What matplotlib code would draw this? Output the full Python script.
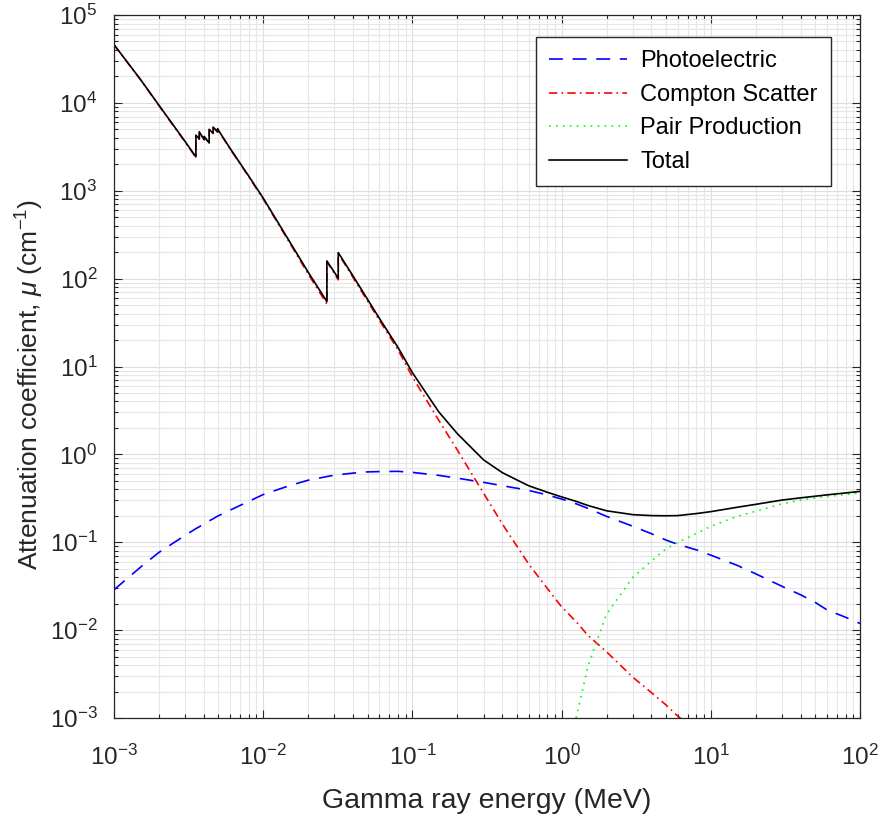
import matplotlib
matplotlib.use('Agg')
import matplotlib.pyplot as plt
from matplotlib.ticker import LogLocator, NullFormatter
import numpy as np

plt.rcParams['font.family'] = ['Liberation Sans', 'DejaVu Sans']
plt.rcParams['mathtext.fontset'] = 'custom'
plt.rcParams['mathtext.rm'] = 'Liberation Sans'
plt.rcParams['mathtext.it'] = 'Liberation Sans:italic'
plt.rcParams['lines.scale_dashes'] = False

# photon energy grid (MeV), absorption edges listed twice
energy = [0.001, 0.0015, 0.002, 0.003,
          0.003538, 0.003538, 0.003727, 0.003727, 0.004018, 0.004018,
          0.004341, 0.004341, 0.004612, 0.004612, 0.004939, 0.004939,
          0.005, 0.006, 0.008, 0.01, 0.015, 0.02, 0.02671, 0.02671,
          0.03, 0.03181, 0.03181, 0.04, 0.05, 0.06, 0.08, 0.1,
          0.15, 0.2, 0.3, 0.4, 0.5, 0.6, 0.8,
          1.0, 1.25, 1.5, 2, 3, 4, 5, 6, 8, 10,
          15, 20, 30, 40, 50, 60, 80, 100]

# blue dashed curve
photoelectric = [0.0288, 0.0518, 0.0767, 0.120,
                 0.143, 0.143, 0.150, 0.150, 0.163, 0.163,
                 0.175, 0.175, 0.185, 0.185, 0.198, 0.198,
                 0.200, 0.232, 0.292, 0.349, 0.441, 0.508, 0.559, 0.559,
                 0.581, 0.587, 0.587, 0.612, 0.632, 0.637, 0.641, 0.624,
                 0.577, 0.536, 0.480, 0.440, 0.412, 0.389, 0.346,
                 0.310, 0.274, 0.243, 0.197, 0.152, 0.125, 0.106, 0.0946, 0.0819, 0.0713,
                 0.0546, 0.0437, 0.0315, 0.0252, 0.0207, 0.0170, 0.0140, 0.0119]

# red dash-dot curve
compton = [45700, 18450, 9300, 3570,
           2390, 4260, 3860, 4660, 3760, 4110,
           3465, 4950, 4455, 5250, 4650, 5050,
           4850, 2990, 1440, 805, 257, 113, 51.5, 155,
           114, 97, 193, 103, 55.5, 33.6, 15.5, 7.6,
           2.45, 1.12, 0.36, 0.162, 0.091, 0.0568, 0.0299,
           0.0184, 0.0125, 0.0087, 0.00566, 0.00291, 0.00194, 0.00141, 0.00105, 0.00072, 0.00055,
           0.00035, 0.00026, 0.00017, 0.00013, 0.0001, 0.00009, 0.00007, 0.00005]

total = [46000, 18600, 9400, 3620,
         2430, 4300, 3900, 4700, 3800, 4150,
         3500, 5000, 4500, 5300, 4700, 5100,
         4900, 3030, 1466, 824, 265, 118.6, 54.7, 159,
         118, 101, 198, 107, 58.2, 35.4, 16.5, 8.5,
         3.05, 1.72, 0.865, 0.62, 0.513, 0.44, 0.371,
         0.328, 0.292, 0.262, 0.228, 0.206, 0.201, 0.200, 0.201, 0.212, 0.223,
         0.250, 0.270, 0.302, 0.320, 0.334, 0.346, 0.364, 0.379]

# pair production (above threshold)
pair_energy = [1.25, 1.5, 2, 3, 4, 5, 6, 8, 10, 15, 20, 30, 40, 50, 60, 80, 100]
pair = [0.00100, 0.00387, 0.0152, 0.0399, 0.0612, 0.0841, 0.0989, 0.126, 0.152,
        0.197, 0.225, 0.274, 0.301, 0.320, 0.332, 0.349, 0.365]

fig = plt.figure(figsize=(8.82, 8.17), dpi=100)
ax = fig.add_axes([0.1293, 0.1212, 0.8458, 0.8604])

lw = 1.2
ax.loglog(energy, photoelectric, color='b', lw=lw, dashes=(10, 7), label='Photoelectric')
ax.loglog(energy, compton, color='r', lw=lw, dashes=(6, 3, 1.2, 3), label='Compton Scatter')
ax.loglog(pair_energy, pair, color='#00ff00', lw=lw, dashes=(1.2, 3.8), label='Pair Production')
ax.loglog(energy, total, color='k', lw=lw, label='Total')

ax.set_xlim(1e-3, 1e2)
ax.set_ylim(1e-3, 1e5)

ax.xaxis.set_major_locator(LogLocator(base=10, numticks=20))
ax.yaxis.set_major_locator(LogLocator(base=10, numticks=20))
ax.xaxis.set_minor_locator(LogLocator(base=10, subs=np.arange(2, 10), numticks=20))
ax.yaxis.set_minor_locator(LogLocator(base=10, subs=np.arange(2, 10), numticks=20))
ax.xaxis.set_minor_formatter(NullFormatter())
ax.yaxis.set_minor_formatter(NullFormatter())

ax.grid(True, which='major', color='#dedede', lw=0.8)
ax.grid(True, which='minor', color='#e6e6e6', lw=0.8)
ax.set_axisbelow(True)

for s in ax.spines.values():
    s.set_color('#262626')
    s.set_linewidth(0.9)
ax.tick_params(which='both', direction='in', top=True, right=True, colors='#262626',
               labelsize=17.5)
ax.tick_params(which='major', length=5.5, width=0.8)
ax.tick_params(which='minor', length=3, width=0.8)
ax.tick_params(axis='x', pad=19)
ax.tick_params(axis='y', pad=12)

ax.set_xlabel('Gamma ray energy (MeV)', fontsize=20.5, color='#262626', labelpad=13)
ax.set_ylabel(r'Attenuation coefficient, $\mu$ (cm$^{-1}$)', fontsize=19, color='#262626')
ax.yaxis.set_label_coords(-0.091, 0.474)

leg = ax.legend(loc='upper right', bbox_to_anchor=(0.961, 0.9687), borderaxespad=0,
                fontsize=17, handlelength=3.3, handletextpad=0.55, labelspacing=0.49,
                borderpad=0.56, fancybox=False, framealpha=1, edgecolor='#262626')
leg.get_frame().set_linewidth(1.0)

plt.savefig('out.png', dpi=100)
